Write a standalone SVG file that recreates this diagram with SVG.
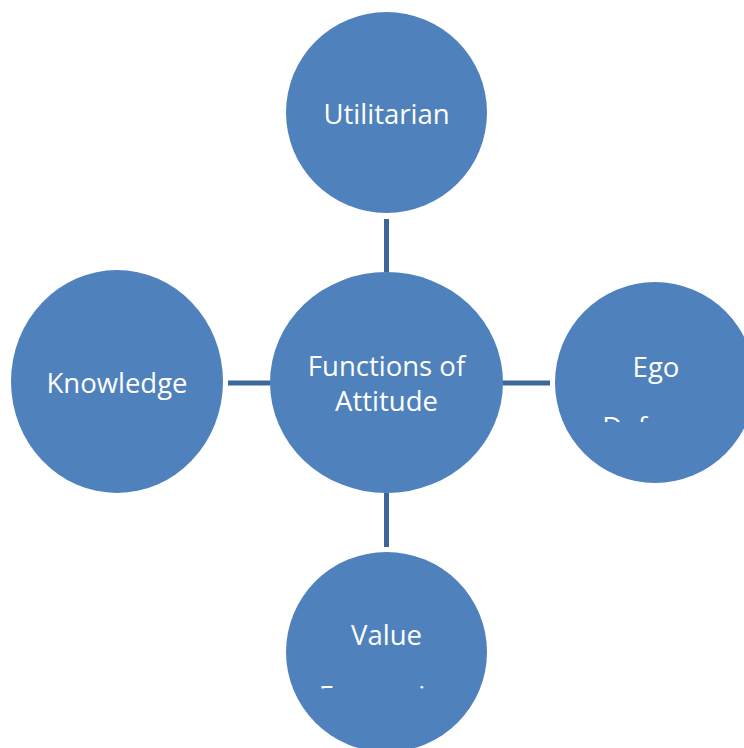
<svg xmlns="http://www.w3.org/2000/svg" width="744" height="748" viewBox="0 0 744 748">
<style>
.node{fill:#4F81BD;}
.lbl{fill:#FFFFFF;font-family:"Open Sans","Liberation Sans",sans-serif;font-size:27.5px;text-anchor:middle;}
.conn{stroke:#3C6798;stroke-width:5;fill:none;}
</style>
<defs>
<clipPath id="clipEgo"><rect x="550" y="380" width="194" height="42"/></clipPath>
<clipPath id="clipVal"><rect x="280" y="650" width="220" height="38.5"/></clipPath>
</defs>
<rect width="744" height="748" fill="#FFFFFF"/>
<g id="connectors">
<line class="conn" x1="386.5" y1="219" x2="386.5" y2="272"/>
<line class="conn" x1="228" y1="383" x2="270" y2="383"/>
<line class="conn" x1="503" y1="383" x2="550" y2="383"/>
<line class="conn" x1="386.5" y1="493" x2="386.5" y2="547"/>
</g>
<g id="utilitarian">
<ellipse class="node" cx="386.5" cy="112.5" rx="100.5" ry="100.5"/>
<text class="lbl" x="386.5" y="124">Utilitarian</text>
</g>
<g id="center">
<ellipse class="node" cx="386.5" cy="382.5" rx="116.5" ry="110.5"/>
<text class="lbl" x="386.5" y="376">Functions of</text>
<text class="lbl" x="386.5" y="411">Attitude</text>
</g>
<g id="knowledge">
<ellipse class="node" cx="117" cy="381.5" rx="106" ry="111.5"/>
<text class="lbl" x="117" y="393">Knowledge</text>
</g>
<g id="ego">
<ellipse class="node" cx="655" cy="382.5" rx="100" ry="100.5"/>
<text class="lbl" x="656" y="377">Ego</text>
<text class="lbl" x="655" y="437" clip-path="url(#clipEgo)">Defense</text>
</g>
<g id="value">
<ellipse class="node" cx="386.5" cy="652" rx="100.5" ry="100"/>
<text class="lbl" x="386.5" y="645">Value</text>
<text class="lbl" x="386.5" y="706" clip-path="url(#clipVal)">Expressive</text>
</g>
</svg>
